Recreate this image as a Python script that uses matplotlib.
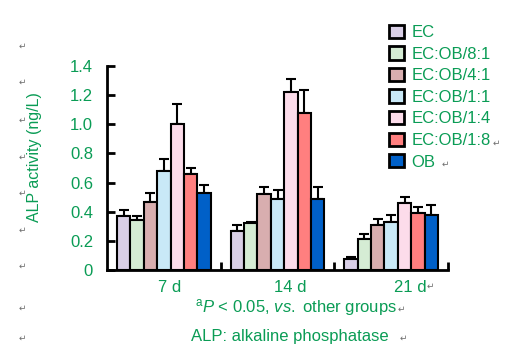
import numpy as np
import matplotlib
matplotlib.use("Agg")
from matplotlib import pyplot as plt
from matplotlib import transforms

# data
days = ["7 d", "14 d", "21 d"]
groups = ["EC", "EC:OB/8:1", "EC:OB/4:1", "EC:OB/1:1", "EC:OB/1:4", "EC:OB/1:8", "OB"]
means = [
    [0.37, 0.34, 0.47, 0.68, 1.00, 0.66, 0.53],   # 7 d
    [0.27, 0.325, 0.52, 0.49, 1.22, 1.08, 0.49],  # 14 d
    [0.073, 0.21, 0.31, 0.33, 0.46, 0.39, 0.38],  # 21 d
]
errors = [
    [0.04, 0.03, 0.06, 0.08, 0.14, 0.04, 0.05],
    [0.04, 0.005, 0.05, 0.06, 0.09, 0.155, 0.08],
    [0.017, 0.04, 0.04, 0.05, 0.04, 0.04, 0.065],
]
colors = ["#d9cfe6", "#d5ecd4", "#d8aeaf", "#c9e9f7", "#fcdcea", "#ff7f7f", "#0060c8"]
yticks = [0, 0.2, 0.4, 0.6, 0.8, 1.0, 1.2, 1.4]
ytick_labels = ["0", "0.2", "0.4", "0.6", "0.8", "1.0", "1.2", "1.4"]

GREEN = "#0a9c55"
GREY = "#6e6e6e"

plt.rcParams.update({
    "font.family": ["Liberation Sans", "DejaVu Sans"],
    "mathtext.fontset": "custom",
    "mathtext.rm": "Liberation Sans",
    "mathtext.it": "Liberation Sans:italic",
})

fig = plt.figure(figsize=(5.26, 3.54), dpi=100)
ax = fig.add_axes([107 / 526, 84 / 354, 341 / 526, 204 / 354])

means = np.array(means)
errors = np.array(errors)
x = np.arange(len(days))
width = 0.118
for i, name in enumerate(groups):
    pos = x + (i - 3) * width
    ax.bar(pos, means[:, i], width, color=colors[i], edgecolor="black",
           linewidth=1.5, label=name, zorder=2)
    ax.errorbar(pos, means[:, i], yerr=[np.zeros(3), errors[:, i]], fmt="none",
                ecolor="black", elinewidth=1.5, capsize=3.5, capthick=1.5, zorder=1)

ax.set_xlim(-0.5, 2.5)
ax.set_ylim(0, 1.4)
ax.spines["top"].set_visible(False)
ax.spines["right"].set_visible(False)
ax.spines["left"].set_linewidth(2)
ax.spines["bottom"].set_linewidth(2)

ax.set_yticks(yticks)
ax.set_yticklabels(ytick_labels)
ax.tick_params(axis="y", direction="in", length=6, width=2, colors="black",
               labelcolor=GREEN, labelsize=12, pad=10)

# category labels + small upward ticks at group boundaries
ax.set_xticks(x)
ax.set_xticklabels(days)
ax.tick_params(axis="x", length=0, labelcolor=GREEN, labelsize=12, pad=7)
ax.set_xticks([0.5, 1.5, 2.5], minor=True)
ax.tick_params(axis="x", which="minor", direction="in", length=6, width=2)
# labels in the source sit a little right of the group centres
for lab, dx in zip(ax.get_xticklabels(), [6, 13, 19]):
    lab.set_transform(lab.get_transform() +
                      transforms.ScaledTranslation(dx / 100, 0, fig.dpi_scale_trans))

ax.set_ylabel("ALP activity (ng/L)", color=GREEN, fontsize=11.5)
ax.yaxis.set_label_coords((42 - 107) / 341, (270 - 157) / 204)

leg = ax.legend(loc="upper left", bbox_to_anchor=(382 / 526, 1 - 18 / 354),
                bbox_transform=fig.transFigure, frameon=False, fontsize=12,
                handlelength=0.9, handleheight=0.85, handletextpad=0.45,
                labelspacing=0.37, borderaxespad=0)
for t in leg.get_texts():
    t.set_color(GREEN)
for h in leg.legend_handles:
    h.set_linewidth(2)

fig.text(296 / 526, 1 - 308 / 354, r"$^{\mathrm{a}}\it{P}$ < 0.05, $\it{vs.}$ other groups",
         color=GREEN, fontsize=12, ha="center", va="center")
fig.text(290 / 526, 1 - 337 / 354, "ALP: alkaline phosphatase",
         color=GREEN, fontsize=12, ha="center", va="center")

# paragraph marks from the source document
for yy in [46, 82, 120, 157, 193, 230, 266, 308, 338]:
    fig.text(22 / 526, 1 - yy / 354, "\u21b5", color=GREY, fontsize=6.5,
             ha="center", va="center", family="DejaVu Sans")
for xx, yy in [(496, 143), (445, 164), (430, 286), (401, 309), (403, 338)]:
    fig.text(xx / 526, 1 - yy / 354, "\u21b5", color=GREY, fontsize=6.5,
             ha="center", va="center", family="DejaVu Sans")

fig.savefig("out.png", dpi=100, facecolor="white")
